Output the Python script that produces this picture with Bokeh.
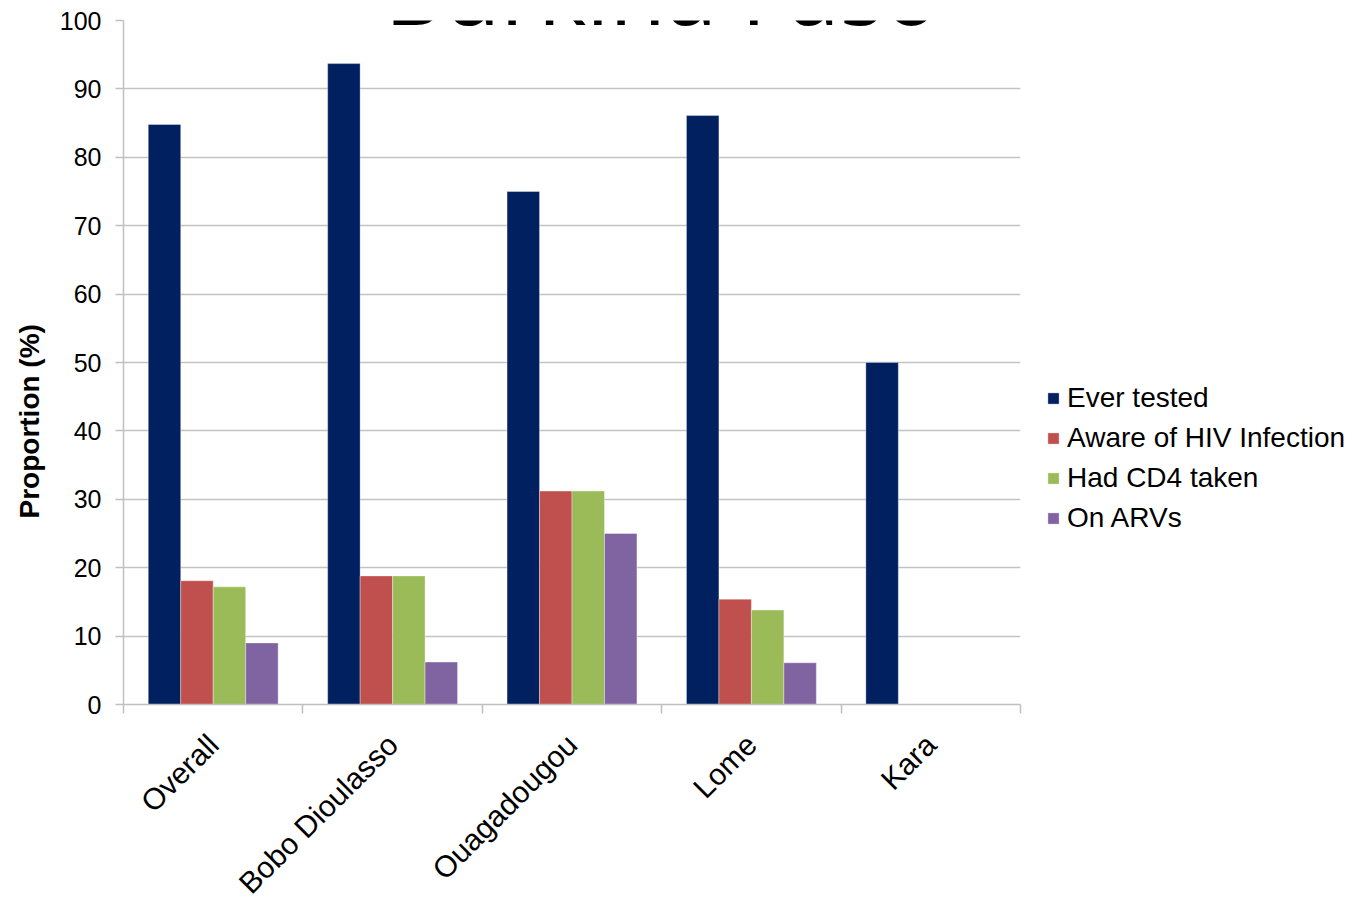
import math
from bokeh.plotting import figure
from bokeh.models import (ColumnDataSource, FixedTicker, Legend, LegendItem, Label,
                          Range1d, Title)
from bokeh.transform import dodge
from bokeh.embed import file_html
from bokeh.resources import INLINE

# ---- data ----
categories = ["Overall", "Bobo Dioulasso", "Ouagadougou", "Lome", "Kara"]
series_names = ["Ever tested", "Aware of HIV Infection", "Had CD4 taken", "On ARVs"]
ever_tested = [84.8, 93.7, 75.0, 86.1, 50.0]
aware_hiv = [18.1, 18.8, 31.2, 15.4, 0.0]
had_cd4 = [17.2, 18.8, 31.2, 13.8, 0.0]
on_arvs = [9.0, 6.2, 25.0, 6.1, 0.0]
y_ticks = [0, 10, 20, 30, 40, 50, 60, 70, 80, 90, 100]
title_text = "Burkina Faso"
y_label = "Proportion (%)"

colors = ["#00205f", "#c0504d", "#9bbb59", "#8064a2"]

centers = [i + 0.5 for i in range(len(categories))]
source = ColumnDataSource(dict(x=centers, s0=ever_tested, s1=aware_hiv,
                               s2=had_cd4, s3=on_arvs))

p = figure(frame_width=897, frame_height=684, output_backend="svg", toolbar_location=None,
           x_range=Range1d(0, len(categories)), y_range=Range1d(0, 100),
           min_border_left=123, min_border_right=0, min_border_top=20,
           min_border_bottom=0)
p.outline_line_color = None
p.background_fill_color = "white"

bw = 0.181
offsets = [-1.5 * bw, -0.5 * bw, 0.5 * bw, 1.5 * bw]
renderers = []
for k, col in enumerate(["s0", "s1", "s2", "s3"]):
    r = p.vbar(x=dodge("x", offsets[k], range=p.x_range), top=col, width=bw,
               bottom=0, source=source, fill_color=colors[k],
               line_color="white", line_alpha=0.35, line_width=1)
    renderers.append(r)

# axes
p.xgrid.grid_line_color = None
p.ygrid.grid_line_color = "#c3c3c3"
p.ygrid.grid_line_width = 1.3
p.yaxis.ticker = FixedTicker(ticks=y_ticks)
p.yaxis.axis_line_color = "#c0c0c0"
p.yaxis.axis_line_width = 1.5
p.yaxis.major_tick_line_color = "#c0c0c0"
p.yaxis.major_tick_line_width = 1.5
p.yaxis.major_tick_out = 8
p.yaxis.major_tick_in = 0
p.yaxis.minor_tick_line_color = None
p.yaxis.major_label_text_font = "Liberation Sans"
p.yaxis.major_label_text_font_size = "25px"
p.yaxis.major_label_text_color = "black"
p.yaxis.major_label_standoff = 14

p.xaxis.ticker = FixedTicker(ticks=centers, minor_ticks=list(range(len(categories) + 1)))
p.xaxis.major_label_overrides = {c: name for c, name in zip(centers, categories)}
p.xaxis.major_tick_line_color = None
p.xaxis.minor_tick_line_color = "#c0c0c0"
p.xaxis.minor_tick_line_width = 1.5
p.xaxis.minor_tick_out = 9
p.xaxis.minor_tick_in = 0
p.xaxis.axis_line_color = "#c0c0c0"
p.xaxis.axis_line_width = 1.5
p.xaxis.major_label_orientation = math.pi / 4
p.xaxis.major_label_text_font = "Liberation Sans"
p.xaxis.major_label_text_font_size = "30px"
p.xaxis.major_label_text_color = "black"
p.xaxis.major_label_standoff = 26

# y axis title as a side title (placed lower than centre, as in the reference)
ytitle = Title(text=y_label, align="left", offset=186, standoff=20,
               vertical_align="top",
               text_font="Liberation Sans", text_font_style="bold",
               text_font_size="28px", text_color="black")
p.add_layout(ytitle, "left")

# main title (partly above the page)
title = Label(x=3.0, y=104.5, text=title_text, text_font="Open Sans",
              text_font_size="92px", text_align="center",
              text_baseline="alphabetic", text_color="black")
p.add_layout(title)

legend = Legend(items=[LegendItem(label=n, renderers=[r]) for n, r in zip(series_names, renderers)],
                location=(26, 170))
legend.border_line_color = None
legend.background_fill_alpha = 0
legend.padding = 0
legend.margin = 0
legend.glyph_width = 14
legend.glyph_height = 14
legend.label_height = 32
legend.spacing = 8
legend.label_standoff = 7
legend.label_text_font = "Liberation Sans"
legend.label_text_font_size = "28px"
legend.label_text_color = "black"
p.add_layout(legend, "right")

open("out.html", "w").write(file_html(p, INLINE))
